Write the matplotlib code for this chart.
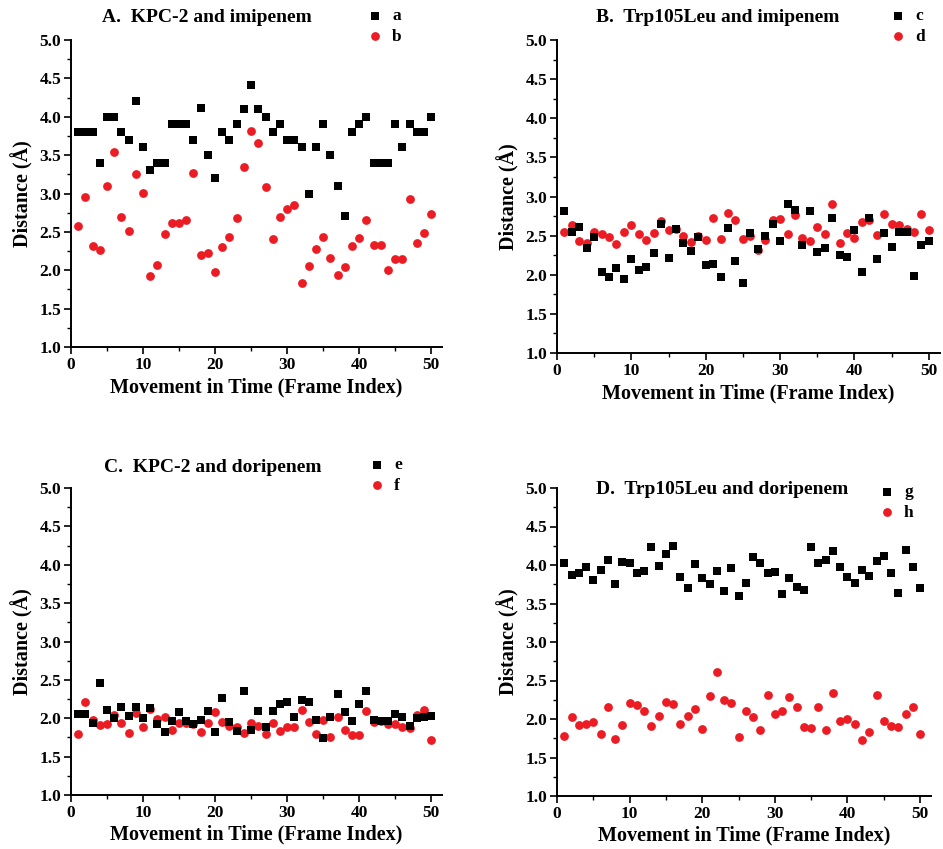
import numpy as np
import matplotlib.pyplot as plt
from matplotlib.ticker import MultipleLocator, FormatStrFormatter

plt.rcParams["font.family"] = ["Liberation Serif", "DejaVu Serif"]
plt.rcParams["font.weight"] = "bold"

frames = np.arange(1, 51)

# A. KPC-2 and imipenem
a = [3.80, 3.80, 3.80, 3.40, 4.00, 4.00, 3.80, 3.70, 4.21, 3.60,
     3.30, 3.40, 3.40, 3.90, 3.90, 3.90, 3.70, 4.11, 3.50, 3.20,
     3.80, 3.70, 3.90, 4.10, 4.41, 4.10, 4.00, 3.80, 3.90, 3.70,
     3.70, 3.60, 3.00, 3.60, 3.90, 3.50, 3.10, 2.71, 3.80, 3.90,
     4.00, 3.40, 3.40, 3.40, 3.90, 3.60, 3.90, 3.80, 3.80, 4.00]
b = [2.58, 2.95, 2.31, 2.27, 3.10, 3.54, 2.69, 2.51, 3.25, 3.01,
     1.93, 2.07, 2.47, 2.62, 2.62, 2.65, 3.27, 2.20, 2.22, 1.98,
     2.30, 2.43, 2.68, 3.35, 3.81, 3.66, 3.08, 2.41, 2.70, 2.80,
     2.85, 1.84, 2.06, 2.28, 2.43, 2.16, 1.94, 2.04, 2.32, 2.42,
     2.65, 2.33, 2.33, 2.00, 2.15, 2.15, 2.93, 2.35, 2.48, 2.73]

# B. Trp105Leu and imipenem
c = [2.82, 2.55, 2.61, 2.34, 2.48, 2.04, 1.97, 2.09, 1.94, 2.20,
     2.06, 2.10, 2.28, 2.65, 2.21, 2.58, 2.40, 2.30, 2.48, 2.12,
     2.14, 1.97, 2.60, 2.18, 1.89, 2.53, 2.33, 2.50, 2.65, 2.43,
     2.91, 2.83, 2.38, 2.81, 2.29, 2.34, 2.72, 2.25, 2.23, 2.57,
     2.03, 2.72, 2.20, 2.53, 2.36, 2.54, 2.54, 1.99, 2.38, 2.43]
d = [2.55, 2.64, 2.43, 2.40, 2.55, 2.52, 2.48, 2.39, 2.55, 2.64,
     2.52, 2.44, 2.53, 2.69, 2.57, 2.59, 2.49, 2.42, 2.49, 2.45,
     2.72, 2.46, 2.79, 2.70, 2.46, 2.49, 2.31, 2.44, 2.70, 2.71,
     2.52, 2.76, 2.47, 2.43, 2.61, 2.52, 2.91, 2.41, 2.53, 2.47,
     2.67, 2.70, 2.51, 2.77, 2.65, 2.63, 2.58, 2.54, 2.78, 2.57]

# C. KPC-2 and doripenem
e = [2.05, 2.06, 1.94, 2.46, 2.11, 2.00, 2.15, 2.03, 2.15, 2.00,
     2.14, 1.92, 1.82, 1.96, 2.08, 1.97, 1.93, 1.98, 2.09, 1.82,
     2.26, 1.95, 1.84, 2.36, 1.85, 2.09, 1.89, 2.09, 2.18, 2.21,
     2.02, 2.24, 2.21, 1.98, 1.74, 2.02, 2.31, 2.08, 1.97, 2.18,
     2.35, 1.98, 1.96, 1.96, 2.06, 2.02, 1.90, 2.00, 2.02, 2.03]
f = [1.79, 2.21, 1.98, 1.91, 1.92, 2.04, 1.94, 1.81, 2.07, 1.88,
     2.12, 1.99, 2.02, 1.85, 1.94, 1.94, 1.93, 1.82, 1.94, 2.08,
     1.95, 1.90, 1.88, 1.81, 1.94, 1.90, 1.79, 1.94, 1.83, 1.89,
     1.88, 2.11, 1.95, 1.80, 1.98, 1.75, 2.02, 1.85, 1.78, 1.78,
     2.09, 1.95, 1.96, 1.92, 1.92, 1.88, 1.87, 2.04, 2.11, 1.72]

# D. Trp105Leu and doripenem
g = [4.02, 3.87, 3.90, 3.98, 3.81, 3.94, 4.07, 3.75, 4.04, 4.03,
     3.90, 3.92, 4.23, 3.99, 4.14, 4.25, 3.84, 3.70, 4.01, 3.83,
     3.75, 3.92, 3.66, 3.96, 3.60, 3.76, 4.10, 4.03, 3.90, 3.91,
     3.62, 3.83, 3.72, 3.68, 4.23, 4.02, 4.07, 4.18, 3.98, 3.84,
     3.77, 3.94, 3.86, 4.05, 4.12, 3.90, 3.63, 4.19, 3.98, 3.70]
h = [1.78, 2.03, 1.92, 1.94, 1.96, 1.80, 2.15, 1.74, 1.92, 2.21,
     2.18, 2.10, 1.91, 2.04, 2.22, 2.19, 1.93, 2.04, 2.13, 1.87,
     2.30, 2.61, 2.25, 2.21, 1.77, 2.11, 2.02, 1.86, 2.31, 2.07,
     2.10, 2.28, 2.15, 1.90, 1.88, 2.16, 1.86, 2.34, 1.97, 2.00,
     1.94, 1.73, 1.83, 2.31, 1.97, 1.91, 1.90, 2.06, 2.16, 1.81]

W, H = 943, 849
RED = "#ec1c24"


def px_rect(left, right, bottom, top):
    return [left / W, 1 - bottom / H, (right - left) / W, (bottom - top) / H]


panels = [
    # title, series, labels, axes rect (px), title pos, legend anchor, xlabel pad
    ("A.  KPC-2 and imipenem", a, b, "a", "b",
     px_rect(71, 442, 347, 40), (102, 18), (366, 8), 3.5),
    ("B.  Trp105Leu and imipenem", c, d, "c", "d",
     px_rect(557, 940, 353, 40), (596, 18), (889, 8), 3.5),
    ("C.  KPC-2 and doripenem", e, f, "e", "f",
     px_rect(71, 442, 795, 488), (104, 467), (368, 457), 3),
    ("D.  Trp105Leu and doripenem", g, h, "g", "h",
     px_rect(557, 931, 796, 488), (596, 490), (878, 484), 3),
]

fig = plt.figure(figsize=(W / 100, H / 100), dpi=100)

for title, s1, s2, l1, l2, rect, tpos, lpos, xpad in panels:
    ax = fig.add_axes(rect)
    p1 = ax.scatter(frames, s1, marker="s", s=30, color="black", lw=0, label=l1, zorder=3)
    p2 = ax.scatter(frames, s2, marker="o", s=40, color=RED, lw=0, label=l2, zorder=2)
    ax.set_xlim(0, 51.5)
    ax.set_ylim(1.0, 5.0)
    ax.xaxis.set_major_locator(MultipleLocator(10))
    ax.xaxis.set_minor_locator(MultipleLocator(5))
    ax.yaxis.set_major_locator(MultipleLocator(0.5))
    ax.yaxis.set_minor_locator(MultipleLocator(0.25))
    ax.yaxis.set_major_formatter(FormatStrFormatter("%.1f"))
    ax.spines["top"].set_visible(False)
    ax.spines["right"].set_visible(False)
    for sp in ("left", "bottom"):
        ax.spines[sp].set_linewidth(1.4)
    ax.tick_params(which="major", direction="out", length=5, width=1.2, labelsize=12.5, pad=2)
    ax.tick_params(which="minor", direction="out", length=3, width=1.0)
    for lab in ax.get_xticklabels() + ax.get_yticklabels():
        lab.set_fontweight("bold")
    ax.set_xlabel("Movement in Time (Frame Index)", fontsize=14.5, fontweight="bold", labelpad=xpad)
    ax.set_ylabel("Distance (Å)", fontsize=14.5, fontweight="bold", labelpad=4)
    fig.text(tpos[0] / W, 1 - tpos[1] / H, title, fontsize=14, fontweight="bold",
             ha="left", va="center")
    ax.legend(handles=[p1, p2], loc="upper left",
              bbox_to_anchor=(lpos[0] / W, 1 - lpos[1] / H),
              bbox_transform=fig.transFigure, frameon=False,
              handlelength=1.0, handletextpad=0.5, labelspacing=0.25,
              borderpad=0, borderaxespad=0,
              prop={"weight": "bold", "size": 12.5})

fig.savefig("out.png", dpi=100)
